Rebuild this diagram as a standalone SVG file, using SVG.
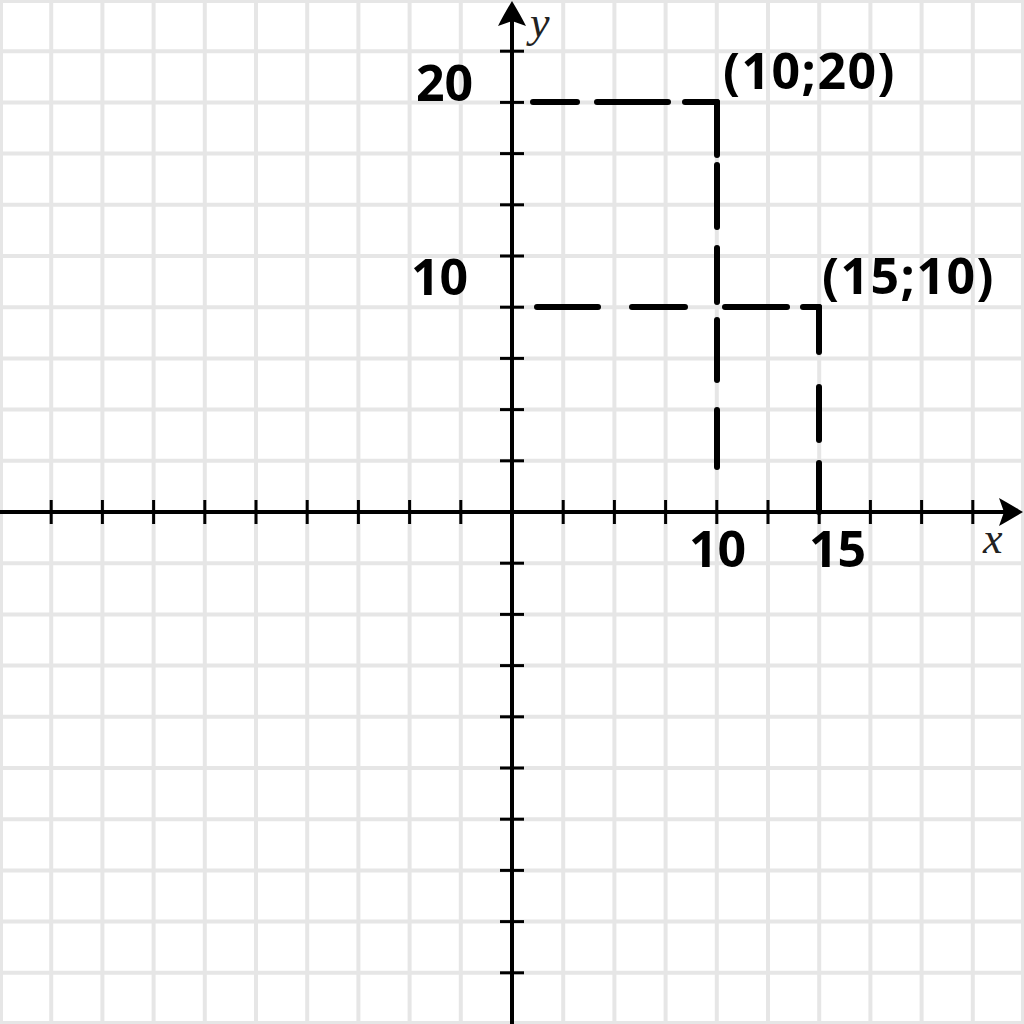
<svg xmlns="http://www.w3.org/2000/svg" width="1024" height="1024" viewBox="0 0 1024 1024">
<style>
.grid line{stroke:#e6e6e6;stroke-width:4}
.axis{stroke:#000;stroke-width:4;fill:none}
.tick line{stroke:#000;stroke-width:3}
.dash line{stroke:#000;stroke-width:6;stroke-linecap:round}
.num{font-family:"Open Sans","Liberation Sans",sans-serif;font-weight:700;font-size:50px;fill:#000}
.coord{letter-spacing:1.5px}
.var{font-family:"Liberation Serif","DejaVu Serif",serif;font-style:italic;font-size:44px;fill:#222}
</style>
<rect width="1024" height="1024" fill="#fff"/>
<g id="grid" class="grid">
<line x1="1" y1="0" x2="1" y2="1024"/><line x1="51.2" y1="0" x2="51.2" y2="1024"/><line x1="102.4" y1="0" x2="102.4" y2="1024"/><line x1="153.6" y1="0" x2="153.6" y2="1024"/><line x1="204.8" y1="0" x2="204.8" y2="1024"/><line x1="256" y1="0" x2="256" y2="1024"/><line x1="307.2" y1="0" x2="307.2" y2="1024"/><line x1="358.4" y1="0" x2="358.4" y2="1024"/><line x1="409.6" y1="0" x2="409.6" y2="1024"/><line x1="460.8" y1="0" x2="460.8" y2="1024"/><line x1="563.2" y1="0" x2="563.2" y2="1024"/><line x1="614.4" y1="0" x2="614.4" y2="1024"/><line x1="665.6" y1="0" x2="665.6" y2="1024"/><line x1="716.8" y1="0" x2="716.8" y2="1024"/><line x1="768" y1="0" x2="768" y2="1024"/><line x1="819.2" y1="0" x2="819.2" y2="1024"/><line x1="870.4" y1="0" x2="870.4" y2="1024"/><line x1="921.6" y1="0" x2="921.6" y2="1024"/><line x1="972.8" y1="0" x2="972.8" y2="1024"/><line x1="1023" y1="0" x2="1023" y2="1024"/>
<line y1="1" x1="0" y2="1" x2="1024"/><line y1="51.2" x1="0" y2="51.2" x2="1024"/><line y1="102.4" x1="0" y2="102.4" x2="1024"/><line y1="153.6" x1="0" y2="153.6" x2="1024"/><line y1="204.8" x1="0" y2="204.8" x2="1024"/><line y1="256" x1="0" y2="256" x2="1024"/><line y1="307.2" x1="0" y2="307.2" x2="1024"/><line y1="358.4" x1="0" y2="358.4" x2="1024"/><line y1="409.6" x1="0" y2="409.6" x2="1024"/><line y1="460.8" x1="0" y2="460.8" x2="1024"/><line y1="563.2" x1="0" y2="563.2" x2="1024"/><line y1="614.4" x1="0" y2="614.4" x2="1024"/><line y1="665.6" x1="0" y2="665.6" x2="1024"/><line y1="716.8" x1="0" y2="716.8" x2="1024"/><line y1="768" x1="0" y2="768" x2="1024"/><line y1="819.2" x1="0" y2="819.2" x2="1024"/><line y1="870.4" x1="0" y2="870.4" x2="1024"/><line y1="921.6" x1="0" y2="921.6" x2="1024"/><line y1="972.8" x1="0" y2="972.8" x2="1024"/><line y1="1023" x1="0" y2="1023" x2="1024"/>
</g>
<g id="ticks" class="tick">
<line x1="51.2" y1="500" x2="51.2" y2="524"/><line x1="102.4" y1="500" x2="102.4" y2="524"/><line x1="153.6" y1="500" x2="153.6" y2="524"/><line x1="204.8" y1="500" x2="204.8" y2="524"/><line x1="256" y1="500" x2="256" y2="524"/><line x1="307.2" y1="500" x2="307.2" y2="524"/><line x1="358.4" y1="500" x2="358.4" y2="524"/><line x1="409.6" y1="500" x2="409.6" y2="524"/><line x1="460.8" y1="500" x2="460.8" y2="524"/><line x1="563.2" y1="500" x2="563.2" y2="524"/><line x1="614.4" y1="500" x2="614.4" y2="524"/><line x1="665.6" y1="500" x2="665.6" y2="524"/><line x1="716.8" y1="500" x2="716.8" y2="524"/><line x1="768" y1="500" x2="768" y2="524"/><line x1="819.2" y1="500" x2="819.2" y2="524"/><line x1="870.4" y1="500" x2="870.4" y2="524"/><line x1="921.6" y1="500" x2="921.6" y2="524"/><line x1="972.8" y1="500" x2="972.8" y2="524"/>
<line y1="51.2" x1="500" y2="51.2" x2="524"/><line y1="102.4" x1="500" y2="102.4" x2="524"/><line y1="153.6" x1="500" y2="153.6" x2="524"/><line y1="204.8" x1="500" y2="204.8" x2="524"/><line y1="256" x1="500" y2="256" x2="524"/><line y1="307.2" x1="500" y2="307.2" x2="524"/><line y1="358.4" x1="500" y2="358.4" x2="524"/><line y1="409.6" x1="500" y2="409.6" x2="524"/><line y1="460.8" x1="500" y2="460.8" x2="524"/><line y1="563.2" x1="500" y2="563.2" x2="524"/><line y1="614.4" x1="500" y2="614.4" x2="524"/><line y1="665.6" x1="500" y2="665.6" x2="524"/><line y1="716.8" x1="500" y2="716.8" x2="524"/><line y1="768" x1="500" y2="768" x2="524"/><line y1="819.2" x1="500" y2="819.2" x2="524"/><line y1="870.4" x1="500" y2="870.4" x2="524"/><line y1="921.6" x1="500" y2="921.6" x2="524"/><line y1="972.8" x1="500" y2="972.8" x2="524"/>
</g>
<g id="axes">
<line class="axis" x1="0" y1="512" x2="1008" y2="512"/>
<line class="axis" x1="512" y1="1024" x2="512" y2="16"/>
<path d="M1023,512 Q1008,503 999,498 L1004,512 L999,526 Q1008,521 1023,512 Z" fill="#000"/>
<path d="M512,1 Q503,16 498,26 L512,21 L526,26 Q521,16 512,1 Z" fill="#000"/>
</g>
<g id="connectors" class="dash">
<line x1="533" y1="102" x2="577" y2="102"/>
<line x1="597" y1="102" x2="668" y2="102"/>
<line x1="685" y1="102" x2="717" y2="102"/>
<line x1="717" y1="102" x2="717" y2="155"/>
<line x1="717" y1="165" x2="717" y2="227"/>
<line x1="717" y1="248" x2="717" y2="302"/>
<line x1="717" y1="320" x2="717" y2="380"/>
<line x1="717" y1="410" x2="717" y2="467"/>
<line x1="537" y1="307" x2="598" y2="307"/>
<line x1="632" y1="307" x2="685" y2="307"/>
<line x1="725" y1="307" x2="787" y2="307"/>
<line x1="803" y1="307" x2="819" y2="307"/>
<line x1="819" y1="307" x2="819" y2="352"/>
<line x1="819" y1="387" x2="819" y2="440"/>
<line x1="819" y1="463" x2="819" y2="512"/>
</g>
<g id="labels">
<text class="var" x="530" y="37">y</text>
<text class="var" x="983" y="553">x</text>
<text class="num" x="416" y="101">20</text>
<text class="num" x="411" y="295">10</text>
<text class="num" x="689" y="567">10</text>
<text class="num" x="809" y="567">15</text>
<text class="num coord" x="723" y="89">(10;20)</text>
<text class="num coord" x="822" y="294">(15;10)</text>
</g>
</svg>
